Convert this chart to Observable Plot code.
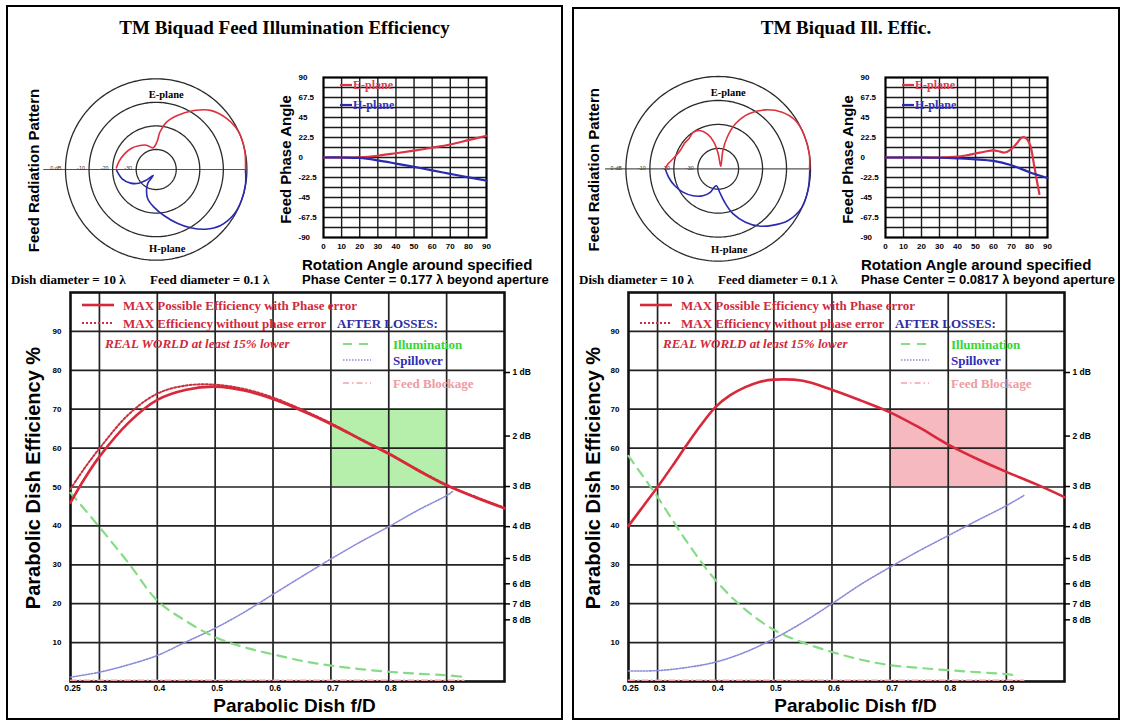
<!DOCTYPE html>
<html>
<head>
<meta charset="utf-8">
<script src="https://cdn.jsdelivr.net/npm/d3@7"></script>
<script src="https://cdn.jsdelivr.net/npm/@observablehq/plot@0.6"></script>
<style>
html,body{margin:0;padding:0;background:#fff;}
#page{position:relative;width:1124px;height:722px;overflow:hidden;background:#fff;}
.t{position:absolute;white-space:nowrap;line-height:1;}
.frame{position:absolute;border:2.5px solid #000;box-sizing:border-box;pointer-events:none;}
</style>
</head>
<body>
<div id="page"></div>
<script>
// ======================= DATA =======================
// --- polar radiation pattern (angle in degrees from boresight, level in dB) ---
const polarRingsDb = [0, -10, -20, -30];
const polarRingLabels = ["0 dB", "-10", "-20", "-30"];

// left panel
const L_E_ang = [0.4, 12, 24, 35.5, 47.4, 57.4, 68.7, 78.6, 84.4, 88, 97.9, 111.7, 126.2, 140, 153.7, 167.3, 177.6];
const L_E_db  = [-0.6, -0.1, 0, -1.5, -4.4, -8.8, -13.9, -18.4, -22.6, -26.5, -29.2, -27.4, -26, -24.6, -23.5, -22.4, -21.6];
const L_H_ang = [-0.6, -9.1, -19.8, -30.1, -41, -50.4, -59.5, -68.6, -80.5, -93.5, -105.9, -114, -121.4, -116.6, -134.1, -141.7, -152, -164.7, -178.6];
const L_H_db  = [-0.6, -0.1, 0, -0.4, -2.3, -5.6, -9.8, -14, -18.7, -22.5, -25.5, -28.4, -31.7, -35.7, -32, -29.1, -26.2, -23.5, -21.7];
// right panel
const R_E_ang = [0, 9.3, 21.8, 32, 41.5, 51.3, 60.9, 69, 74.1, 75.7, 45, 90, 99.2, 107.4, 116, 124.5, 134.4, 142.7, 154.2, 166, 175.1, 179.3];
const R_E_db  = [-0.4, 0, 0, -0.5, -2.9, -7, -12.2, -18.4, -24.8, -30.6, -37, -32.2, -27.2, -23.2, -20.7, -20.1, -21, -20.85, -20.9, -19.5, -17.3, -16.5];
const R_H_ang = [-1, -13.5, -25.1, -36.4, -46.4, -54.6, -62.9, -71.9, -79.2, -86.7, -95.6, -102.3, -108.7, -119.6, -133.2, -146.6, -159.1, -169.7, -179.3];
const R_H_db  = [-0.3, 0, -0.1, -2.2, -5.9, -9.2, -13.5, -18.8, -24.4, -28.8, -31.4, -30.7, -28.1, -25.6, -23.1, -20.85, -19, -17.6, -16.5];

// --- feed phase angle vs rotation angle ---
const phaseXTicks = [0, 10, 20, 30, 40, 50, 60, 70, 80, 90];
const phaseXGrid = [10, 20, 30, 40, 50, 60, 70, 80];
const phaseYTicks = [90, 67.5, 45, 22.5, 0, -22.5, -45, -67.5, -90];
const phaseYLabels = ["90", "67.5", "45", "22.5", "0", "-22.5", "-45", "-67.5", "-90"];
const phaseYGrid = [-78.75, -67.5, -56.25, -45, -33.75, -22.5, -11.25, 0, 11.25, 22.5, 33.75, 45, 56.25, 67.5, 78.75];

const L_phE_ang = [0, 10, 20, 30, 40, 50, 60, 70, 80, 90];
const L_phE     = [0, 0, 0.3, 2, 4.8, 7.8, 11, 14.6, 19.5, 24.5];
const L_phH_ang = [0, 10, 20, 30, 40, 50, 60, 70, 80, 90];
const L_phH     = [0, 0, -0.5, -3.2, -6.8, -10.6, -14.4, -18.4, -22.3, -26];
const R_phE_ang = [0, 10, 20, 30, 40, 45, 50, 55, 60, 63, 66, 70, 73, 76, 78.5, 80.5, 82.5, 84, 85.5];
const R_phE     = [0, 0, 0, 0, 1, 2.5, 4.5, 6.5, 8, 7, 5.6, 9.5, 16, 22.8, 21, 13, -8, -25, -41];
const R_phH_ang = [0, 10, 20, 30, 40, 50, 60, 70, 80, 90];
const R_phH     = [0, 0, 0, -0.3, -1, -2, -3.8, -8.8, -16.5, -23];

// --- parabolic dish efficiency vs f/D ---
const fdTicks = [0.25, 0.3, 0.4, 0.5, 0.6, 0.7, 0.8, 0.9];
const fdTickLabels = ["0.25", "0.3", "0.4", "0.5", "0.6", "0.7", "0.8", "0.9"];
const fdGrid = [0.3, 0.4, 0.5, 0.6, 0.7, 0.8, 0.9];
const effTicks = [10, 20, 30, 40, 50, 60, 70, 80, 90];
const dbTicks = [1, 2, 3, 4, 5, 6, 7, 8];
const dbTickLabels = ["1 dB", "2 dB", "3 dB", "4 dB", "5 dB", "6 dB", "7 dB", "8 dB"];

// left panel curves
const L_fd         = [0.25, 0.275, 0.3, 0.35, 0.4, 0.45, 0.5, 0.55, 0.6, 0.65, 0.7, 0.75, 0.8, 0.85, 0.9, 0.95, 1.0];
const L_maxPhase   = [46, 52.3, 57.8, 66.5, 72.4, 75, 75.8, 74.8, 72.6, 69.6, 66.2, 62.3, 58.5, 54.3, 50.4, 47.3, 44.5];
const L_maxNoPhase = [49.5, 55, 59.9, 68.6, 74, 76.1, 76.3, 75.2, 73, 69.9, 66.4, 62.5, 58.7, 54.5, 50.6, 47.5, 44.7];
const L_illumFd    = [0.25, 0.3, 0.35, 0.4, 0.45, 0.5, 0.55, 0.6, 0.65, 0.7, 0.75, 0.8, 0.85, 0.9, 0.93];
const L_illum      = [48.5, 39.7, 30.5, 20.8, 15.5, 11.4, 8.8, 7, 5.3, 4.1, 3.2, 2.5, 2, 1.6, 1.2];
const L_spillFd    = [0.25, 0.3, 0.35, 0.4, 0.45, 0.5, 0.55, 0.6, 0.65, 0.7, 0.75, 0.8, 0.85, 0.9, 0.91];
const L_spill      = [1.1, 2.4, 4.3, 6.7, 10.2, 13.7, 17.8, 22.4, 27, 31.5, 35.8, 39.8, 44, 47.8, 48.8];
const L_blockFd    = [0.25, 0.5, 0.75, 0.93];
const L_block      = [0.3, 0.3, 0.3, 0.3];
const L_shadeFd    = [0.7, 0.9];
const L_shadeEff   = [50, 70];

// right panel curves
const R_fd         = [0.25, 0.275, 0.3, 0.325, 0.35, 0.375, 0.4, 0.425, 0.45, 0.475, 0.5, 0.55, 0.6, 0.65, 0.7, 0.75, 0.8, 0.85, 0.9, 0.95, 1.0];
const R_maxPhase   = [40, 45, 50, 55.3, 60.8, 66, 70.6, 73.6, 75.6, 77, 77.6, 77.3, 75, 72.2, 69.2, 65.3, 60.9, 57.2, 53.9, 50.8, 47.4];
const R_illumFd    = [0.25, 0.3, 0.35, 0.4, 0.45, 0.5, 0.55, 0.6, 0.65, 0.7, 0.75, 0.8, 0.85, 0.9, 0.92];
const R_illum      = [58, 47.4, 36, 26, 18.6, 13.3, 10, 7.6, 5.6, 4.2, 3.5, 2.9, 2.4, 1.9, 1.5];
const R_spillFd    = [0.25, 0.3, 0.35, 0.4, 0.45, 0.5, 0.55, 0.6, 0.65, 0.7, 0.75, 0.8, 0.85, 0.9, 0.93];
const R_spill      = [2.7, 2.8, 3.6, 5, 7.5, 11, 15.2, 20, 25, 29.4, 33.6, 37.5, 41.4, 45.2, 47.8];
const R_blockFd    = [0.25, 0.5, 0.75, 0.93];
const R_block      = [0.3, 0.3, 0.3, 0.3];
const R_shadeFd    = [0.7, 0.9];
const R_shadeEff   = [50, 70];

// ======================= DRAWING =======================
const page = document.getElementById("page");
const SERIF = "'Liberation Serif','Times New Roman',serif";
const SANS = "'Liberation Sans',Arial,Helvetica,sans-serif";
const RED = "#d8283a", BLUE = "#2a2ab0";
const PSTYLE = {background: "transparent", overflow: "visible", fontFamily: SANS};

function put(el, left, top) {
  el.style.position = "absolute";
  el.style.left = left + "px";
  el.style.top = top + "px";
  page.appendChild(el);
  return el;
}
function text(str, x, y, o = {}) {
  const d = document.createElement("div");
  d.className = "t";
  d.textContent = str;
  d.style.fontFamily = o.family || SANS;
  d.style.fontSize = (o.size || 12) + "px";
  d.style.fontWeight = o.weight || "bold";
  d.style.fontStyle = o.italic ? "italic" : "normal";
  d.style.color = o.color || "#000";
  const ax = o.anchor === "start" ? "0" : o.anchor === "end" ? "-100%" : "-50%";
  d.style.transform = `translate(${ax},-50%)`;
  d.style.left = x + "px";
  d.style.top = y + "px";
  page.appendChild(d);
}
function sample(x1, x2, y, stroke, width, dash) {
  const ns = "http://www.w3.org/2000/svg";
  const s = document.createElementNS(ns, "svg");
  s.setAttribute("width", x2 - x1);
  s.setAttribute("height", 10);
  s.style.position = "absolute";
  s.style.left = x1 + "px";
  s.style.top = (y - 5) + "px";
  s.style.overflow = "visible";
  const l = document.createElementNS(ns, "line");
  l.setAttribute("x1", 0); l.setAttribute("x2", x2 - x1);
  l.setAttribute("y1", 5); l.setAttribute("y2", 5);
  l.setAttribute("stroke", stroke);
  l.setAttribute("stroke-width", width);
  if (dash) l.setAttribute("stroke-dasharray", dash);
  s.appendChild(l);
  page.appendChild(s);
}
const pts = (xs, ys) => xs.map((x, i) => ({x, y: ys[i]}));

// ---------- polar plot ----------
const DBMIN = -38.5;
const rho = db => Math.max(0, Math.min(1, (db - DBMIN) / -DBMIN));
const toXY = (angs, dbs) => angs.map((a, i) => ({
  x: rho(dbs[i]) * Math.cos(a * Math.PI / 180),
  y: rho(dbs[i]) * Math.sin(a * Math.PI / 180)
}));

function polar(c) {
  const ringPts = polarRingsDb.flatMap(db => d3.range(0, 361, 2).map(a => ({
    db, x: rho(db) * Math.cos(a * Math.PI / 180), y: rho(db) * Math.sin(a * Math.PI / 180)
  })));
  const svg = Plot.plot({
    width: c.width, height: c.height,
    marginLeft: c.cx - c.r - c.left, marginRight: c.left + c.width - (c.cx + c.r),
    marginTop: c.cy - c.r - c.top, marginBottom: c.top + c.height - (c.cy + c.r),
    x: {domain: [-1, 1], axis: null},
    y: {domain: [-1, 1], axis: null},
    style: PSTYLE,
    marks: [
      Plot.ruleY([0], {x1: () => c.axisStart, x2: () => 1, stroke: "#555", strokeWidth: 1.2}),
      Plot.line(ringPts, {x: "x", y: "y", z: "db", stroke: "#2a2a2a", strokeWidth: 1.3}),
      Plot.text(polarRingsDb, {x: d => -rho(d), y: () => 0, text: (d, i) => polarRingLabels[i],
        textAnchor: "end", dx: -4, dy: -1, fontSize: 5.5, fill: "#333"}),
      Plot.line(toXY(c.E.ang, c.E.db), {x: "x", y: "y", stroke: "#e0303e", strokeWidth: 1.6, curve: "catmull-rom"}),
      Plot.line(toXY(c.H.ang, c.H.db), {x: "x", y: "y", stroke: BLUE, strokeWidth: 1.6, curve: "catmull-rom"}),
      Plot.text(["E-plane"], {frameAnchor: "top", textAnchor: "middle", dx: 10, dy: 12, fontSize: 10.5, fontWeight: "bold", fontFamily: SERIF}),
      Plot.text(["H-plane"], {frameAnchor: "bottom", textAnchor: "middle", dx: 11, dy: -8, fontSize: 10.5, fontWeight: "bold", fontFamily: SERIF}),
      Plot.text(["Feed Radiation Pattern"], {frameAnchor: "left", textAnchor: "middle", rotate: -90, dx: c.titleDx, dy: 1,
        fontSize: 15, fontWeight: "bold"})
    ]
  });
  put(svg, c.left, c.top);
}

// ---------- phase plot ----------
function phase(c) {
  const svg = Plot.plot({
    width: c.width, height: c.height,
    marginLeft: c.mL, marginRight: c.mR, marginTop: c.mT, marginBottom: c.mB,
    x: {domain: [0, 90], axis: null},
    y: {domain: [-90, 90], axis: null},
    style: PSTYLE,
    marks: [
      Plot.ruleX(phaseXGrid, {stroke: "#1a1a1a", strokeWidth: 1.4}),
      Plot.ruleY(phaseYGrid, {stroke: "#1a1a1a", strokeWidth: 1.4}),
      Plot.frame({stroke: "#000", strokeWidth: 2.2}),
      Plot.line(pts(c.Eang, c.E), {x: "x", y: "y", stroke: "#dc3444", strokeWidth: 2.2, curve: "catmull-rom"}),
      Plot.line(pts(c.Hang, c.H), {x: "x", y: "y", stroke: BLUE, strokeWidth: 2.2, curve: "catmull-rom"}),
      Plot.text(phaseYTicks, {x: () => 0, y: d => d, text: (d, i) => phaseYLabels[i], textAnchor: "start",
        dx: -25, fontSize: 8, fontWeight: "bold"}),
      Plot.text(phaseXTicks, {x: d => d, frameAnchor: "bottom", textAnchor: "middle", text: d => String(d), dy: 11,
        fontSize: 8, fontWeight: "bold"}),
      Plot.text(["Feed Phase Angle"], {frameAnchor: "left", textAnchor: "middle", rotate: -90, dx: -37, dy: 2, fontSize: 15, fontWeight: "bold"})
    ]
  });
  put(svg, c.left, c.top);
}

// ---------- main efficiency chart ----------
function mainChart(c) {
  const xEnd = 1.0;
  const pxPerUnit = (c.width - c.mL - c.mR) / 0.75;
  const svg = Plot.plot({
    width: c.width, height: c.height,
    marginLeft: c.mL, marginRight: c.mR, marginTop: c.mT, marginBottom: c.mB,
    x: {domain: [0.25, xEnd], axis: null},
    y: {domain: [0, 100], axis: null},
    style: PSTYLE,
    marks: [
      Plot.rect([0], {x1: () => c.shadeFd[0], x2: () => c.shadeFd[1], y1: () => c.shadeEff[0], y2: () => c.shadeEff[1], fill: c.shadeFill}),
      Plot.ruleX(fdGrid, {stroke: "#222", strokeWidth: 1.7}),
      Plot.ruleY(effTicks, {stroke: "#222", strokeWidth: 1.7}),
      Plot.frame({stroke: "#111", strokeWidth: 2.6}),
      Plot.line(pts(c.blockFd, c.block), {x: "x", y: "y", stroke: "#f2a2aa", strokeWidth: 1.5, strokeDasharray: "6,3,1.5,3"}),
      Plot.line(pts(c.spillFd, c.spill), {x: "x", y: "y", stroke: "#8a8ad8", strokeWidth: 1.6, strokeDasharray: "1.5,1.5", curve: "catmull-rom"}),
      Plot.line(pts(c.illumFd, c.illum), {x: "x", y: "y", stroke: "#86dc86", strokeWidth: 2.2, strokeDasharray: "9,7", curve: "catmull-rom"}),
      ...(c.maxNoPhase ? [Plot.line(pts(c.fd, c.maxNoPhase), {x: "x", y: "y", stroke: "#c83040", strokeWidth: 2, strokeDasharray: "2,2", curve: "catmull-rom"})] : []),
      Plot.line(pts(c.fd, c.maxPhase), {x: "x", y: "y", stroke: RED, strokeWidth: 2.6, curve: "catmull-rom"}),
      Plot.text(effTicks, {y: d => d, frameAnchor: "left", textAnchor: "end", dx: -9, text: d => String(d), fontSize: 8, fontWeight: "bold"}),
      Plot.text(fdTicks, {x: d => d, frameAnchor: "bottom", textAnchor: "middle", dy: 9, dx: 2, text: (d, i) => fdTickLabels[i], fontSize: 8.5, fontWeight: "bold"}),
      Plot.ruleY(dbTicks, {y: d => 100 * Math.pow(10, -d / 10), x1: () => xEnd, x2: () => xEnd + 6 / pxPerUnit, stroke: "#000", strokeWidth: 1.5}),
      Plot.text(dbTicks, {y: d => 100 * Math.pow(10, -d / 10), frameAnchor: "right", dx: 8, textAnchor: "start",
        text: (d, i) => dbTickLabels[i], fontSize: 8.5, fontWeight: "bold"}),
      Plot.text(["Parabolic Dish Efficiency %"], {frameAnchor: "left", textAnchor: "middle", rotate: -90, dx: c.yTitleDx, dy: -9, fontSize: 20, fontWeight: "bold"}),
      Plot.text(["Parabolic Dish f/D"], {frameAnchor: "bottom", textAnchor: "middle", dx: c.xTitleDx, dy: 30, fontSize: 19, fontWeight: "bold"})
    ]
  });
  put(svg, c.left, c.top);
}

function legend(L) {
  sample(L + 12, L + 44, 305, RED, 2.6);
  text("MAX Possible Efficiency with Phase error", L + 53, 305, {family: SERIF, size: 13, color: "#d02a3c", anchor: "start"});
  sample(L + 12, L + 44, 323, "#c83040", 2, "2,2");
  text("MAX Efficiency without phase error", L + 53, 323, {family: SERIF, size: 13, color: "#d02a3c", anchor: "start"});
  text("REAL WORLD at least 15% lower", L + 35, 343, {family: SERIF, size: 13, color: "#d02a3c", anchor: "start", italic: true});
  text("AFTER LOSSES:", L + 267, 323, {family: SERIF, size: 13, color: "#2c2ca0", anchor: "start"});
  sample(L + 273, L + 301, 344, "#86dc86", 2.2, "9,7");
  text("Illumination", L + 323, 344, {family: SERIF, size: 13, color: "#34d634", anchor: "start"});
  sample(L + 273, L + 301, 360, "#8a8ad8", 1.6, "1.5,1.5");
  text("Spillover", L + 323, 360, {family: SERIF, size: 13, color: "#2c2cb8", anchor: "start"});
  sample(L + 273, L + 301, 383, "#f2a2aa", 1.5, "6,3,1.5,3");
  text("Feed Blockage", L + 323, 383, {family: SERIF, size: 13, color: "#f09aa2", anchor: "start"});
}

function phaseLegend(F) {
  sample(F + 17, F + 29, 85, "#dc3444", 2.2);
  text("E-plane", F + 30, 85, {family: SERIF, size: 12, color: "#dc4050", anchor: "start"});
  sample(F + 17, F + 29, 105, BLUE, 2.2);
  text("H-plane", F + 30, 105, {family: SERIF, size: 12, color: "#3434b8", anchor: "start"});
}

// ======== LEFT PANEL ========
text("TM Biquad Feed Illumination Efficiency", 284.5, 27, {family: SERIF, size: 19});
polar({left: 28, top: 60, width: 242, height: 220, cx: 155.7, cy: 169, r: 90.7, axisStart: -1.24, titleDx: -31,
  E: {ang: L_E_ang, db: L_E_db}, H: {ang: L_H_ang, db: L_H_db}});
phase({left: 270, top: 65, width: 230, height: 200, mL: 53, mR: 14, mT: 12, mB: 28,
  Eang: L_phE_ang, E: L_phE, Hang: L_phH_ang, H: L_phH});
phaseLegend(323);
text("Rotation Angle around specified", 302, 264, {size: 15, anchor: "start"});
text("Phase Center = 0.177 \u03bb beyond aperture", 302, 279, {size: 13, anchor: "start"});
text("Dish diameter = 10 \u03bb", 11, 279, {family: SERIF, size: 13, anchor: "start"});
text("Feed diameter = 0.1 \u03bb", 150, 279, {family: SERIF, size: 13, anchor: "start"});
mainChart({left: 0, top: 285, width: 560, height: 437, mL: 70, mR: 56, mT: 7, mB: 41, yTitleDx: -37, xTitleDx: 7,
  fd: L_fd, maxPhase: L_maxPhase, maxNoPhase: L_maxNoPhase, illumFd: L_illumFd, illum: L_illum,
  spillFd: L_spillFd, spill: L_spill, blockFd: L_blockFd, block: L_block,
  shadeFd: L_shadeFd, shadeEff: L_shadeEff, shadeFill: "#b6efab"});
legend(70);

// ======== RIGHT PANEL ========
text("TM Biquad Ill. Effic.", 846, 27, {family: SERIF, size: 19});
polar({left: 578, top: 60, width: 252, height: 220, cx: 717.7, cy: 168.3, r: 92.3, axisStart: -1.22, titleDx: -31.4,
  E: {ang: R_E_ang, db: R_E_db}, H: {ang: R_H_ang, db: R_H_db}});
phase({left: 832, top: 65, width: 230, height: 200, mL: 53, mR: 15, mT: 12, mB: 28,
  Eang: R_phE_ang, E: R_phE, Hang: R_phH_ang, H: R_phH});
phaseLegend(885);
text("Rotation Angle around specified", 861, 264, {size: 15, anchor: "start"});
text("Phase Center = 0.0817 \u03bb beyond aperture", 861, 279, {size: 13, anchor: "start"});
text("Dish diameter = 10 \u03bb", 579, 279, {family: SERIF, size: 13, anchor: "start"});
text("Feed diameter = 0.1 \u03bb", 718, 279, {family: SERIF, size: 13, anchor: "start"});
mainChart({left: 558, top: 285, width: 562, height: 437, mL: 70, mR: 56, mT: 7, mB: 41, yTitleDx: -35, xTitleDx: 9,
  fd: R_fd, maxPhase: R_maxPhase, maxNoPhase: null, illumFd: R_illumFd, illum: R_illum,
  spillFd: R_spillFd, spill: R_spill, blockFd: R_blockFd, block: R_block,
  shadeFd: R_shadeFd, shadeEff: R_shadeEff, shadeFill: "#f6b9c0"});
legend(628);

// panel frames
for (const [l, t, w, h] of [[6, 5, 557, 715], [572, 7, 548, 713]]) {
  const f = document.createElement("div");
  f.className = "frame";
  f.style.left = l + "px"; f.style.top = t + "px";
  f.style.width = w + "px"; f.style.height = h + "px";
  page.appendChild(f);
}
</script>
</body>
</html>
